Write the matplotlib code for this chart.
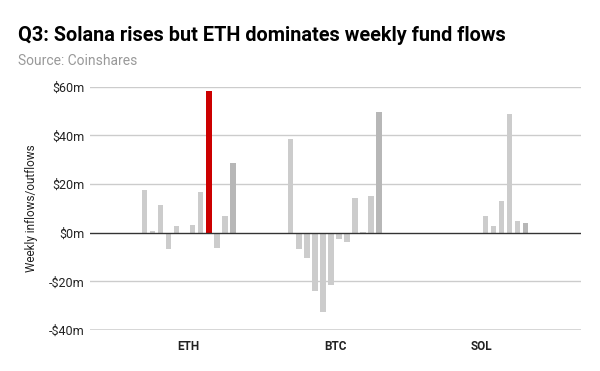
import matplotlib.pyplot as plt
import numpy as np

plt.rcParams['font.family'] = ['Roboto', 'DejaVu Sans']

categories = ['ETH', 'BTC', 'SOL']
n_weeks = 12
eth = [17.6, 0.5, 11.5, -6.8, 2.7, -0.7, 3.1, 16.8, 58.4, -6.1, 6.8, 28.8]
btc = [38.7, -6.8, -10.2, -23.8, -32.6, -21.7, -2.4, -3.8, 14.3, 0.3, 15.2, 49.8]
sol = [np.nan] * 6 + [7.0, 2.7, 13.2, 48.9, 4.6, 3.8]
yticks = [-40, -20, 0, 20, 40, 60]
ytick_labels = ['-$40m', '-$20m', '$0m', '$20m', '$40m', '$60m']
highlight = ('ETH', 8)  # red week

grey = '#cccccc'
dark_grey = '#b7b7b7'
red = '#cc0000'

fig = plt.figure(figsize=(6, 3.71), dpi=100)
ax = fig.add_axes([0.150, 0.1105, 0.818, 0.6558])

slot = 0.055
bw = 0.038
data = [eth, btc, sol]
for ci, vals in enumerate(data):
    for w in range(n_weeks):
        v = vals[w]
        if np.isnan(v):
            continue
        x = ci + (w - (n_weeks - 1) / 2) * slot
        c = grey
        if w == n_weeks - 1:
            c = dark_grey
        if (categories[ci], w) == highlight:
            c = red
        ax.bar(x, v, width=bw, color=c, zorder=3)

ax.set_ylim(-40, 60)
ax.set_xlim(-0.674, 2.68)
for t in yticks:
    col = '#333333' if t in (0, -40) else '#cccccc'
    ax.axhline(t, color=col, lw=1, zorder=2 if t else 4)

ax.set_yticks(yticks)
ax.set_yticklabels(ytick_labels, fontsize=9, color='#222222')
ax.set_xticks(range(3))
ax.set_xticklabels(categories, fontsize=8.5, fontweight='bold', color='#222222')
ax.tick_params(axis='both', length=0)
ax.tick_params(axis='y', pad=4)
ax.tick_params(axis='x', pad=7)
for s in ax.spines.values():
    s.set_visible(False)
ax.set_ylabel('Weekly inflows/outflows', fontsize=8.5, color='#222222', labelpad=8)

fig.text(0.03, 0.89, 'Q3: Solana rises but ETH dominates weekly fund flows',
         fontsize=14.3, fontweight='bold', color='#000000')
fig.text(0.03, 0.826, 'Source: Coinshares', fontsize=10, color='#999999')

fig.savefig('out.png', dpi=100)
